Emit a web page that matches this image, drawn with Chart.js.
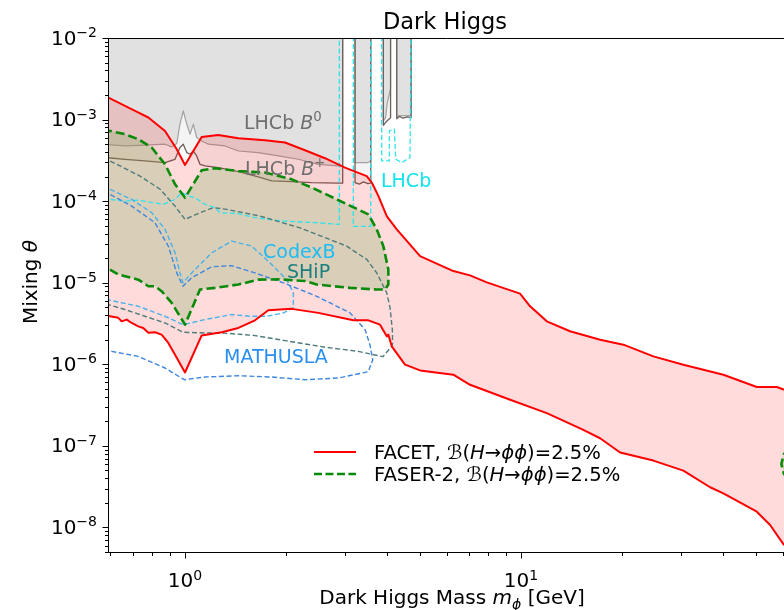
<!DOCTYPE html>
<html><head><meta charset="utf-8">
<script src="https://cdn.jsdelivr.net/npm/chart.js@4/dist/chart.umd.min.js"></script>
<style>html,body{margin:0;padding:0;background:#fff}</style>
</head><body>
<canvas id="c" width="784" height="610"></canvas>
<script>
// ---------------- data (mass m_phi [GeV], mixing theta) ----------------
const xTickValues = [1, 10];
const xTickExp = ['0', '1'];
const yTickValues = [1e-2, 1e-3, 1e-4, 1e-5, 1e-6, 1e-7, 1e-8];
const yTickExp = ['\u22122', '\u22123', '\u22124', '\u22125', '\u22126', '\u22127', '\u22128'];

const facetUpper = [[0.57,1.87e-3],[0.598,1.82e-3],[0.71,1.28e-3],[0.778,1.06e-3],[0.872,7.26e-4],[0.945,4.33e-4],[1.0,2.78e-4],[1.121,6.13e-4],[1.256,6.49e-4],[1.441,5.91e-4],[1.73,5.58e-4],[1.984,5.23e-4],[2.275,4.21e-4],[2.61,3.36e-4],[2.993,2.58e-4],[3.474,2.03e-4],[3.596,1.69e-4],[3.761,1.16e-4],[3.984,6.57e-5],[4.267,4.51e-5],[5.006,2.12e-5],[6.288,1.39e-5],[7.05,1.23e-5],[7.907,1.01e-5],[9.93,7.36e-6],[10.64,5.14e-6],[11.93,3.36e-6],[13.99,2.54e-6],[17.19,2.0e-6],[20.16,1.74e-6],[24.76,1.25e-6],[30.41,9.89e-7],[40.0,7.45e-7],[50.3,5.26e-7],[57.7,5.26e-7],[60.65,4.88e-7],[66,4.4e-7]];
const facetLower = [[0.57,3.95e-6],[0.598,3.87e-6],[0.633,3.71e-6],[0.648,3.36e-6],[0.671,3.53e-6],[0.694,3.21e-6],[0.726,2.92e-6],[0.751,2.79e-6],[0.778,2.43e-6],[0.814,2.47e-6],[0.852,2.31e-6],[0.892,1.83e-6],[0.934,1.31e-6],[1.0,7.94e-7],[1.121,2.26e-6],[1.286,2.47e-6],[1.441,2.79e-6],[1.615,3.46e-6],[1.77,4.59e-6],[2.078,4.78e-6],[2.493,4.27e-6],[3.169,3.46e-6],[3.512,3.46e-6],[3.805,3.06e-6],[3.984,2.2e-6],[4.028,2.31e-6],[4.123,1.66e-6],[4.516,9.89e-7],[5.006,8.41e-7],[6.288,7.45e-7],[7.05,5.61e-7],[9.28,3.67e-7],[11.93,2.52e-7],[15.32,1.57e-7],[17.19,1.24e-7],[19.71,8.28e-8],[24.76,6.6e-8],[30.41,4.97e-8],[36.52,3.11e-8],[40.0,2.62e-8],[50.3,1.56e-8],[55.1,1.07e-8],[60.65,6.08e-9],[63,3.5e-9]];

const faserUpper = [[0.57,7.5e-4],[0.598,7.26e-4],[0.663,6.62e-4],[0.726,5.74e-4],[0.796,4.54e-4],[0.872,2.83e-4],[0.934,1.61e-4],[1.0,1.10e-4],[1.121,2.39e-4],[1.228,2.53e-4],[1.441,2.34e-4],[1.73,2.24e-4],[2.078,1.85e-4],[2.383,1.47e-4],[2.763,1.10e-4],[3.512,6.89e-5],[3.72,4.51e-5],[3.892,2.81e-5],[4.028,1.45e-5],[4.028,9.5e-6],[3.937,8.25e-6]];
const faserLower = [[3.72,8.25e-6],[3.098,8.65e-6],[2.466,9.5e-6],[2.275,1.05e-5],[1.9,1.10e-5],[1.652,1.09e-5],[1.441,9.5e-6],[1.228,8.65e-6],[1.108,8.25e-6],[1.0,3.06e-6],[0.913,5.66e-6],[0.852,7.87e-6],[0.814,9.06e-6],[0.778,9.06e-6],[0.726,1.09e-5],[0.663,1.2e-5],[0.633,1.26e-5],[0.598,1.45e-5],[0.57,1.5e-5]];
const faserHighMass = [[63.5,9e-8],[60.6,8.0e-8],[59.5,6.0e-8],[60.6,4.5e-8],[63.5,4.0e-8]];

const lhcbB0Main = [[0.57,5.0e-4],[0.663,4.75e-4],[0.76,4.85e-4],[0.872,4.99e-4],[0.913,4.62e-4],[0.945,5.09e-4],[0.966,8.78e-4],[0.988,1.28e-3],[1.012,8.78e-4],[1.035,6.62e-4],[1.059,8.78e-4],[1.083,6.03e-4],[1.121,5.47e-4],[1.173,4.99e-4],[1.315,4.75e-4],[1.441,4.12e-4],[1.652,3.94e-4],[1.895,3.58e-4],[2.174,3.26e-4],[2.493,2.83e-4],[2.859,2.70e-4],[2.946,2.70e-4]];
const lhcbB0Strip2 = [[3.206,2.97e-4],[3.5,2.97e-4],[3.571,3.1e-4]];
const lhcbB0Strip3 = [[3.892,9.6e-4],[3.95,1.05e-3],[4.0,1.6e-3],[4.09,2.4e-3]];
const lhcbB0Strip4 = [[4.267,1.1e-3],[4.45,1.12e-3],[4.706,1.12e-3]];
const lhcbBpMain = [[0.57,3.45e-4],[0.663,3.26e-4],[0.76,3.11e-4],[0.872,2.97e-4],[0.934,3.26e-4],[0.966,4.54e-4],[0.988,4.99e-4],[1.012,3.94e-4],[1.035,3.76e-4],[1.059,4.12e-4],[1.083,3.58e-4],[1.108,2.83e-4],[1.147,2.70e-4],[1.256,2.58e-4],[1.441,2.30e-4],[1.652,1.98e-4],[1.811,1.77e-4],[2.078,1.74e-4],[2.383,1.69e-4],[2.859,1.66e-4],[2.946,1.66e-4]];
const lhcbBpStrip2 = [[3.206,1.69e-4],[3.3,1.62e-4],[3.4,1.72e-4],[3.5,1.64e-4],[3.571,1.66e-4]];
const lhcbBpStrip3 = [[3.892,8.5e-4],[3.95,9.2e-4],[4.02,9.9e-4],[4.09,1.05e-3]];
const lhcbBpStrip4 = [[4.267,1.02e-3],[4.35,1.1e-3],[4.45,1.04e-3],[4.6,1.08e-3],[4.706,1.05e-3]];

const lhcbProj1 = [[0.57,1.05e-4],[0.598,1.05e-4],[0.663,1.0e-4],[0.726,1.03e-4],[0.796,9.6e-5],[0.862,9.14e-5],[0.934,1.05e-4],[0.978,1.27e-4],[1.023,1.16e-4],[1.071,1.10e-4],[1.147,9.14e-5],[1.228,8.32e-5],[1.271,7.22e-5],[1.441,7.02e-5],[1.615,6.27e-5],[1.961,5.7e-5],[2.466,5.44e-5],[2.879,5.19e-5],[2.879,1.3e-2]];
const lhcbProj2 = [[3.169,1.3e-2],[3.169,4.9e-5],[3.571,4.9e-5],[3.571,1.3e-2]];
const lhcbProj3 = [[3.849,1.3e-2],[3.849,3.11e-4],[4.055,3.11e-4],[4.055,7.26e-4],[4.198,7.62e-4],[4.238,3.26e-4],[4.415,2.97e-4],[4.673,3.42e-4],[4.706,1.3e-2]];

const shipCurve = [[0.57,3.3e-4],[0.598,3.11e-4],[0.735,2.03e-4],[0.843,1.40e-4],[0.934,8.7e-5],[1.0,5.97e-5],[1.108,7.22e-5],[1.214,8.32e-5],[1.331,7.93e-5],[1.672,6.57e-5],[2.199,4.7e-5],[3.028,2.81e-5],[3.474,1.93e-5],[3.72,1.32e-5],[3.984,7.52e-6],[4.075,4.96e-6],[4.14,2.66e-6],[4.146,1.79e-6],[4.123,1.66e-6],[3.88,1.24e-6],[3.28,1.44e-6],[2.61,1.62e-6],[1.984,1.95e-6],[1.615,2.25e-6],[1.315,2.41e-6],[1.147,2.42e-6],[0.986,2.47e-6],[0.872,3.21e-6],[0.76,3.88e-6],[0.663,4.69e-6],[0.598,5.32e-6],[0.57,5.5e-6]];
const codexbCurve = [[0.57,1.5e-4],[0.598,1.40e-4],[0.694,1.05e-4],[0.796,7.22e-5],[0.872,4.51e-5],[0.934,2.33e-5],[0.966,1.32e-5],[0.986,9.98e-6],[1.047,1.32e-5],[1.201,2.33e-5],[1.377,3.24e-5],[1.579,2.81e-5],[1.791,1.75e-5],[2.007,1.09e-5],[2.101,7.52e-6],[2.101,4.92e-6],[1.961,4.27e-6],[1.751,3.88e-6],[1.561,3.88e-6],[1.377,4.07e-6],[1.147,3.53e-6],[0.988,3.06e-6],[0.872,3.88e-6],[0.726,5.14e-6],[0.598,6.10e-6],[0.57,6.3e-6]];
const mathuslaCurve = [[0.57,1.25e-4],[0.598,1.21e-4],[0.694,8.7e-5],[0.814,5.44e-5],[0.892,2.81e-5],[0.945,1.32e-5],[0.986,9.06e-6],[1.047,1.15e-5],[1.201,1.57e-5],[1.377,1.62e-5],[1.615,1.32e-5],[1.961,9.98e-6],[2.466,6.82e-6],[3.098,4.27e-6],[3.434,2.66e-6],[3.55,1.74e-6],[3.62,1.14e-6],[3.512,8.11e-7],[2.859,6.79e-7],[2.275,6.47e-7],[1.811,6.98e-7],[1.441,7.24e-7],[1.147,6.98e-7],[0.995,6.47e-7],[0.872,9.01e-7],[0.726,1.25e-6],[0.605,1.44e-6],[0.57,1.47e-6]];

// ---------------- helpers ----------------
const DF = '"DejaVu Sans", "Liberation Sans", sans-serif';
const ABOVE = 1.3e-2; // closes excluded regions beyond the top of the frame
const P = a => a.map(p => ({x: p[0], y: p[1]}));
const toTop = a => [[a[0][0], ABOVE]].concat(a, [[a[a.length-1][0], ABOVE]]);
const ring = (up, lo) => up.concat(lo.slice().reverse());

function area(data, bg, border, bw) {
  return {data: P(data), showLine: true, fill: 'shape', backgroundColor: bg,
          borderColor: border || 'rgba(0,0,0,0)', borderWidth: bw || 0, clip: 0};
}
function curve(data, color, width, dash) {
  return {data: P(data), showLine: true, fill: false, borderColor: color,
          borderWidth: width, borderDash: dash || [], clip: 0};
}

const B0FILL = 'rgba(128,128,128,0.17)', BPFILL = 'rgba(128,128,128,0.09)';
const B0LINE = '#a5a5a5', BPLINE = '#6b605c';
const dashThin = [5, 2.6];

// bottom -> top
const layers = [
  area(toTop(lhcbB0Main), B0FILL, B0LINE, 1.2),
  area(toTop(lhcbB0Strip2), B0FILL, B0LINE, 1.2),
  area(toTop(lhcbB0Strip3), B0FILL, B0LINE, 1.2),
  area(toTop(lhcbB0Strip4), B0FILL, B0LINE, 1.2),
  area(toTop(lhcbBpMain), BPFILL, BPLINE, 1.3),
  area(toTop(lhcbBpStrip2), BPFILL, BPLINE, 1.3),
  area(toTop(lhcbBpStrip3), BPFILL, BPLINE, 1.3),
  area(toTop(lhcbBpStrip4), BPFILL, BPLINE, 1.3),
  area(ring(facetUpper, facetLower), 'rgba(255,0,0,0.14)'),
  area(faserUpper.concat(faserLower), 'rgba(130,175,100,0.30)'),
  area(faserHighMass, 'rgba(130,175,100,0.30)'),
  curve(lhcbProj1, '#2ee4ec', 1.3, dashThin),
  curve(lhcbProj2, '#2ee4ec', 1.3, dashThin),
  curve(lhcbProj3, '#2ee4ec', 1.3, dashThin),
  curve(shipCurve, '#4f7b7b', 1.4, dashThin),
  curve(codexbCurve, '#48b2ea', 1.4, dashThin),
  curve(mathuslaCurve, '#3f86e0', 1.4, dashThin),
  curve(faserUpper.concat(faserLower), '#0a8a0a', 2.6, [9, 4]),
  curve(faserHighMass, '#0a8a0a', 2.6, [9, 4]),
  curve(facetUpper, '#ff0000', 2),
  curve(facetLower, '#ff0000', 2)
];

function rich(ctx, parts, x, y, align, size, color) {
  ctx.fillStyle = color || '#000';
  const fonts = parts.map(p => (p[1] === 'i' ? 'italic ' : '') + (size * (p[2] || 1)).toFixed(2) + 'px ' + DF);
  const ws = parts.map((p, i) => { ctx.font = fonts[i]; return ctx.measureText(p[0]).width; });
  const W = ws.reduce((s, w) => s + w, 0);
  let cx = align === 'center' ? x - W / 2 : align === 'right' ? x - W : x;
  parts.forEach((p, i) => { ctx.font = fonts[i]; ctx.fillText(p[0], cx, y + (p[3] || 0)); cx += ws[i]; });
}

const decor = {
  id: 'decor',
  afterDraw(chart) {
    const ctx = chart.ctx, a = chart.chartArea, xs = chart.scales.x, ys = chart.scales.y;
    ctx.save();
    ctx.textAlign = 'left'; ctx.textBaseline = 'alphabetic';
    // frame
    ctx.strokeStyle = '#000'; ctx.lineWidth = 1; ctx.setLineDash([]);
    const L = Math.round(a.left) + 0.5, B = Math.round(a.bottom) + 0.5, T = Math.round(a.top) + 0.5, R = a.right;
    ctx.beginPath();
    ctx.moveTo(L, T); ctx.lineTo(R, T);
    ctx.moveTo(L, T - 0.5); ctx.lineTo(L, B); ctx.lineTo(R, B);
    ctx.stroke();
    // ticks
    ctx.beginPath();
    for (let e = -9; e <= -2; e++) for (let k = 1; k < 10; k++) {
      const v = k * Math.pow(10, e);
      if (v < ys.min * 0.999 || v > ys.max * 1.001) continue;
      const p = Math.round(ys.getPixelForValue(v)) + 0.5;
      const len = k === 1 ? 6 : 3.5;
      ctx.moveTo(L - len, p); ctx.lineTo(L, p);
    }
    for (let e = -1; e <= 1; e++) for (let k = 1; k < 10; k++) {
      const v = k * Math.pow(10, e);
      if (v < xs.min * 0.999 || v > xs.max * 1.001) continue;
      const p = Math.round(xs.getPixelForValue(v)) + 0.5;
      const len = k === 1 ? 6 : 3.5;
      ctx.moveTo(p, B); ctx.lineTo(p, B + len);
    }
    ctx.stroke();
    // tick labels
    yTickValues.forEach((v, i) => {
      const p = ys.getPixelForValue(v);
      rich(ctx, [['10', 'n', 1, 0], [yTickExp[i], 'n', 0.7, -7.5]], 97, p + 6.5, 'right', 20);
    });
    xTickValues.forEach((v, i) => {
      const p = xs.getPixelForValue(v);
      rich(ctx, [['10', 'n', 1, 0], [xTickExp[i], 'n', 0.7, -7.5]], p, 587, 'center', 20);
    });
    // title and axis titles
    rich(ctx, [['Dark Higgs', 'n']], 445, 29, 'center', 22.5);
    rich(ctx, [['Dark Higgs Mass ', 'n'], ['m', 'i'], ['\u03d5', 'i', 0.7, 4.5], [' [GeV]', 'n']], 452, 604, 'center', 20);
    ctx.save();
    ctx.translate(37, 282); ctx.rotate(-Math.PI / 2);
    rich(ctx, [['Mixing ', 'n'], ['\u03b8', 'i']], 0, 0, 'center', 20);
    ctx.restore();
    // region labels
    rich(ctx, [['LHCb ', 'n'], ['B', 'i'], ['0', 'n', 0.7, -8]], 244, 129, 'left', 19, '#6e6e6e');
    rich(ctx, [['LHCb ', 'n'], ['B', 'i'], ['+', 'n', 0.7, -8]], 245, 175, 'left', 19, '#6e6e6e');
    rich(ctx, [['LHCb', 'n']], 381, 187, 'left', 19, '#10e4ec');
    rich(ctx, [['CodexB', 'n']], 263, 257.5, 'left', 19, '#1ebcf4');
    rich(ctx, [['SHiP', 'n']], 287, 277.5, 'left', 19, '#1a7f7f');
    rich(ctx, [['MATHUSLA', 'n']], 224, 363, 'left', 19, '#2a8ff0');
    // legend
    ctx.lineCap = 'butt';
    ctx.strokeStyle = '#ff0000'; ctx.lineWidth = 2; ctx.setLineDash([]);
    ctx.beginPath(); ctx.moveTo(314, 452); ctx.lineTo(356, 452); ctx.stroke();
    ctx.strokeStyle = '#0a8a0a'; ctx.lineWidth = 2.5; ctx.setLineDash([8, 3.5]);
    ctx.beginPath(); ctx.moveTo(314, 474); ctx.lineTo(356, 474); ctx.stroke();
    ctx.setLineDash([]);
    const legTail = [['\u212c', 'n'], ['(', 'n'], ['H', 'i'], ['\u2192', 'n'], ['\u03d5\u03d5', 'i'], [')=2.5%', 'n']];
    rich(ctx, [['FACET, ', 'n']].concat(legTail), 374, 459, 'left', 19.6);
    rich(ctx, [['FASER-2, ', 'n']].concat(legTail), 374, 481, 'left', 19.6);
    ctx.restore();
  }
};

new Chart(document.getElementById('c'), {
  type: 'scatter',
  data: {datasets: layers.slice().reverse()},
  options: {
    responsive: false, animation: false, devicePixelRatio: 1,
    layout: {padding: {left: 108, right: 0, top: 38, bottom: 58}},
    elements: {point: {radius: 0, hoverRadius: 0}, line: {tension: 0, borderJoinStyle: 'round'}},
    scales: {
      x: {type: 'logarithmic', min: 0.59, max: 60.6, display: false},
      y: {type: 'logarithmic', min: 5e-9, max: 1e-2, display: false}
    },
    plugins: {legend: {display: false}, tooltip: {enabled: false}}
  },
  plugins: [decor]
});
</script>
</body></html>
